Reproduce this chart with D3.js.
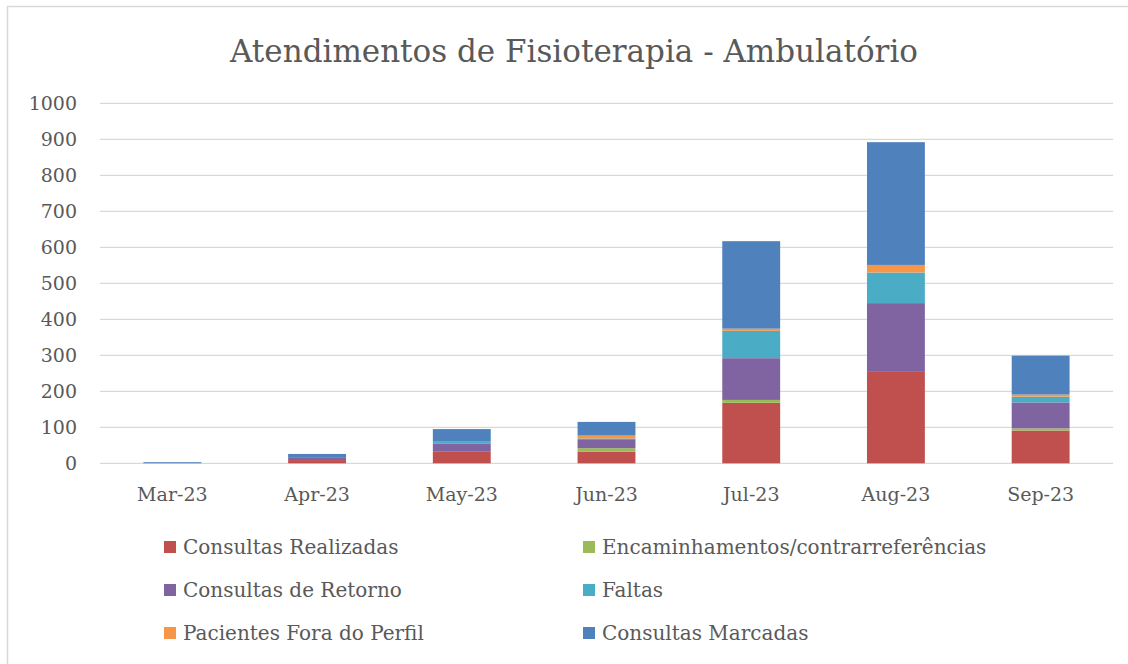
<!DOCTYPE html>
<html>
<head>
<meta charset="utf-8">
<script src="https://cdn.jsdelivr.net/npm/d3@7/dist/d3.min.js"></script>
<style>
  body { margin: 0; background: #fff; }
  text { font-family: "DejaVu Serif", "Liberation Serif", serif; fill: #595959; }
</style>
</head>
<body>
<div id="chart"></div>
<script>
const w = 1128;
const h = 664;

const months = ["Mar-23", "Apr-23", "May-23", "Jun-23", "Jul-23", "Aug-23", "Sep-23"];
const seriesNames = ["Consultas Realizadas", "Encaminhamentos/contrarreferências", "Consultas de Retorno", "Faltas", "Pacientes Fora do Perfil", "Consultas Marcadas"];
const colors = ["#c0504d", "#9bbb59", "#8064a2", "#4bacc6", "#f79646", "#4f81bd"];

const realizadas = [0, 9, 32, 32, 168, 256, 91];
const encaminhamentos = [0, 0, 0, 10, 8, 0, 6];
const retorno = [0, 8, 22, 25, 116, 189, 72];
const faltas = [0, 0, 6, 2, 76, 85, 16];
const foraPerfil = [0, 0, 0, 8, 6, 21, 6];
const marcadas = [3, 9, 35, 38, 243, 341, 108];

const yTicks = [0, 100, 200, 300, 400, 500, 600, 700, 800, 900, 1000];

const seriesVals = [realizadas, encaminhamentos, retorno, faltas, foraPerfil, marcadas];
const rows = months.map((m, i) => {
  const r = { month: m };
  seriesNames.forEach((s, j) => r[s] = seriesVals[j][i]);
  return r;
});
const stacked = d3.stack().keys(seriesNames)(rows);

const plot = { left: 100, right: 1113, top: 103.3, bottom: 463.3 };

const svg = d3.select("#chart").append("svg")
  .attr("width", w)
  .attr("height", h);

// outer border
svg.append("rect")
  .attr("x", 7.5).attr("y", 6.5)
  .attr("width", w + 10).attr("height", h + 10)
  .attr("fill", "white")
  .attr("stroke", "#d9d9d9")
  .attr("stroke-width", 1.5);

const x = d3.scaleBand()
  .domain(months)
  .range([plot.left, plot.right])
  .paddingInner(0.6)
  .paddingOuter(0.3);

const y = d3.scaleLinear()
  .domain([0, 1000])
  .range([plot.bottom, plot.top]);

// gridlines
svg.append("g")
  .selectAll("line")
  .data(yTicks)
  .enter()
  .append("line")
  .attr("x1", plot.left)
  .attr("x2", plot.right)
  .attr("y1", d => y(d))
  .attr("y2", d => y(d))
  .attr("stroke", "#d9d9d9")
  .attr("stroke-width", 1.3);

// y axis
const yAxis = d3.axisLeft(y).tickValues(yTicks).tickFormat(d3.format("d")).tickSize(0).tickPadding(0);
svg.append("g")
  .attr("transform", `translate(${plot.left - 23}, 0)`)
  .call(yAxis)
  .call(g => g.select(".domain").remove())
  .selectAll("text")
  .style("font-size", "19px")
  .style("font-family", "DejaVu Serif, serif")
  .attr("fill", "#595959")
  .attr("dy", "0.35em");

// bars
svg.append("g")
  .selectAll("g")
  .data(stacked)
  .enter()
  .append("g")
  .attr("fill", (d, i) => colors[i])
  .selectAll("rect")
  .data(d => d)
  .enter()
  .append("rect")
  .attr("x", d => x(d.data.month))
  .attr("width", x.bandwidth())
  .attr("y", d => y(d[1]))
  .attr("height", d => y(d[0]) - y(d[1]));

// x axis
const xAxis = d3.axisBottom(x).tickSize(0).tickPadding(0);
svg.append("g")
  .attr("transform", `translate(0, ${plot.bottom})`)
  .call(xAxis)
  .call(g => g.select(".domain").remove())
  .selectAll("text")
  .style("font-size", "19px")
  .style("font-family", "DejaVu Serif, serif")
  .attr("fill", "#595959")
  .attr("y", 38)
  .attr("dy", 0);

// title
svg.append("text")
  .attr("x", 574)
  .attr("y", 62)
  .attr("text-anchor", "middle")
  .style("font-size", "31px")
  .text("Atendimentos de Fisioterapia - Ambulatório");

// legend
const legend = svg.append("g").attr("id", "legend");
const legendItems = legend.selectAll("g")
  .data(seriesNames)
  .enter()
  .append("g")
  .attr("transform", (d, i) => `translate(${i % 2 === 0 ? 164 : 583}, ${547 + Math.floor(i / 2) * 43})`);

legendItems.append("rect")
  .attr("x", 0)
  .attr("y", -6)
  .attr("width", 12)
  .attr("height", 12)
  .attr("fill", (d, i) => colors[i]);

legendItems.append("text")
  .attr("x", 19)
  .attr("y", 0)
  .attr("dy", "0.35em")
  .style("font-size", "20px")
  .text(d => d);
</script>
</body>
</html>
